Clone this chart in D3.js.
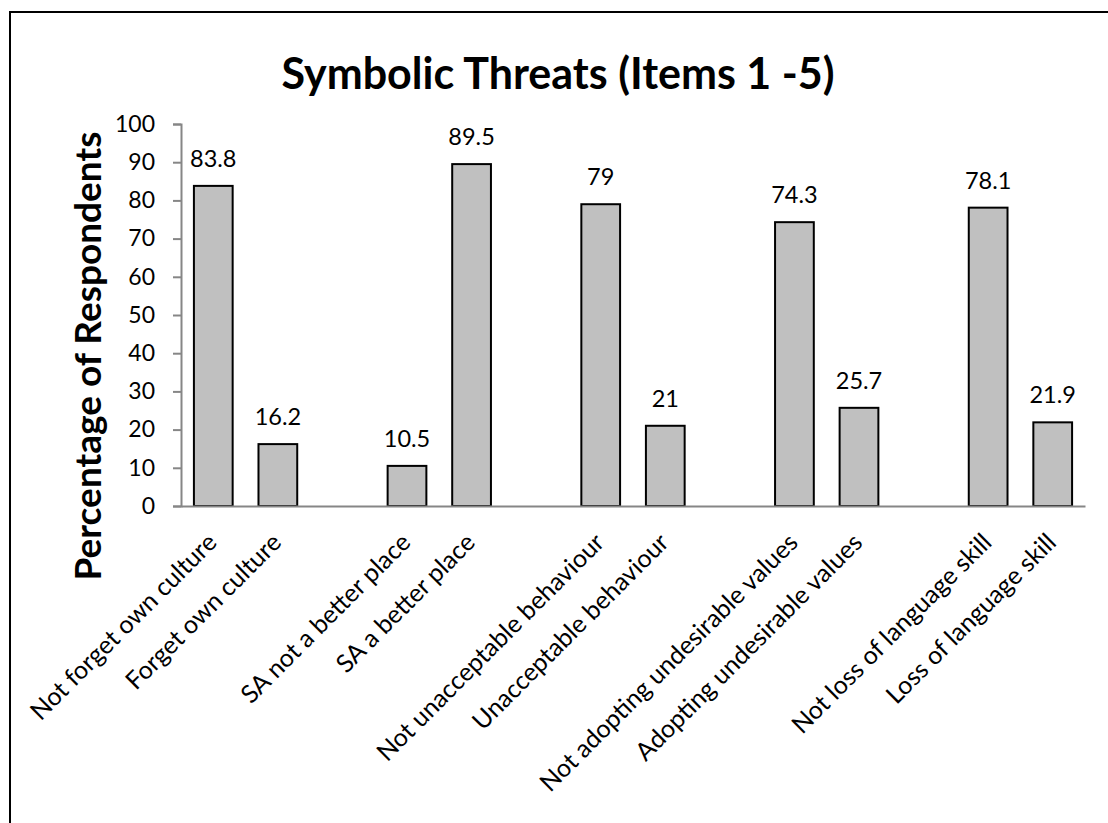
<!DOCTYPE html>
<html>
<head>
<meta charset="utf-8">
<script src="https://cdn.jsdelivr.net/npm/d3@7"></script>
<style>
  html, body { margin: 0; padding: 0; background: #fff; }
  svg { display: block; font-family: Lato, "Open Sans", "DejaVu Sans", sans-serif; }
</style>
</head>
<body>
<svg id="chart" width="1108" height="823"></svg>
<script>
// Item responses; blank entries leave a spacer slot between item pairs
const categories = [
  "Not forget own culture", "Forget own culture", "",
  "SA not a better place", "SA a better place", "",
  "Not unacceptable behaviour", "Unacceptable behaviour", "",
  "Not adopting undesirable values", "Adopting undesirable values", "",
  "Not loss of language skill", "Loss of language skill"
];
const values = [83.8, 16.2, null, 10.5, 89.5, null, 79, 21, null, 74.3, 25.7, null, 78.1, 21.9];
const valueLabels = ["83.8", "16.2", "", "10.5", "89.5", "", "79", "21", "", "74.3", "25.7", "", "78.1", "21.9"];
const yTicks = [0, 10, 20, 30, 40, 50, 60, 70, 80, 90, 100];

const svg = d3.select("#chart");

// Outer frame
svg.append("rect")
  .attr("x", 10).attr("y", 12)
  .attr("width", 1200).attr("height", 900)
  .attr("fill", "none").attr("stroke", "#000").attr("stroke-width", 2);

const plot = { left: 181, right: 1085, top: 124, bottom: 506 };

const x = d3.scaleBand()
  .domain(d3.range(categories.length))
  .range([plot.left, plot.right])
  .paddingInner(0.4).paddingOuter(0.2);

const y = d3.scaleLinear().domain([0, 100]).range([plot.bottom, plot.top]);

// Title
svg.append("text")
  .attr("x", 558).attr("y", 89)
  .attr("text-anchor", "middle")
  .attr("font-size", 43).attr("font-weight", 700)
  .attr("fill", "#000")
  .text("Symbolic Threats (Items 1 -5)");

// Y axis title
svg.append("text")
  .attr("transform", "translate(101,356) rotate(-90)")
  .attr("text-anchor", "middle")
  .attr("font-size", 37).attr("font-weight", 700)
  .attr("fill", "#000")
  .text("Percentage of Respondents");

// Y axis
const yAxis = svg.append("g")
  .attr("transform", `translate(${plot.left},0)`)
  .call(d3.axisLeft(y).tickValues(yTicks).tickSize(8).tickPadding(18).tickSizeOuter(8));
yAxis.selectAll("path, line").attr("stroke", "#868686").attr("stroke-width", 2);
yAxis.selectAll("text").attr("font-size", 23).attr("fill", "#000")
  .attr("font-family", "Lato, 'Open Sans', sans-serif");

// Bars
const items = categories.map((c, i) => ({ i, c, v: values[i], lbl: valueLabels[i] }))
  .filter(d => d.v !== null);

svg.append("g").selectAll("rect")
  .data(items).join("rect")
  .attr("x", d => x(d.i))
  .attr("y", d => y(d.v))
  .attr("width", x.bandwidth())
  .attr("height", d => y(0) - y(d.v))
  .attr("fill", "#c0c0c0")
  .attr("stroke", "#000").attr("stroke-width", 2);

// X axis baseline and rotated category labels
const xAxis = svg.append("g")
  .attr("transform", `translate(0,${plot.bottom})`)
  .call(d3.axisBottom(x).tickSize(0).tickFormat(i => categories[i]));
xAxis.select(".domain").attr("stroke", "#868686").attr("stroke-width", 2);
xAxis.selectAll(".tick text")
  .attr("font-size", 25).attr("fill", "#000")
  .attr("font-family", "Lato, 'Open Sans', sans-serif")
  .attr("text-anchor", "end")
  .attr("dy", null)
  .attr("transform", "translate(5,38) rotate(-45)")
  .attr("y", 0).attr("x", 0);

// Value labels
svg.append("g").selectAll("text")
  .data(items).join("text")
  .attr("x", d => x(d.i) + x.bandwidth() / 2)
  .attr("y", d => y(d.v) - 19)
  .attr("text-anchor", "middle")
  .attr("font-size", 23.5).attr("fill", "#000")
  .text(d => d.lbl);
</script>
</body>
</html>
